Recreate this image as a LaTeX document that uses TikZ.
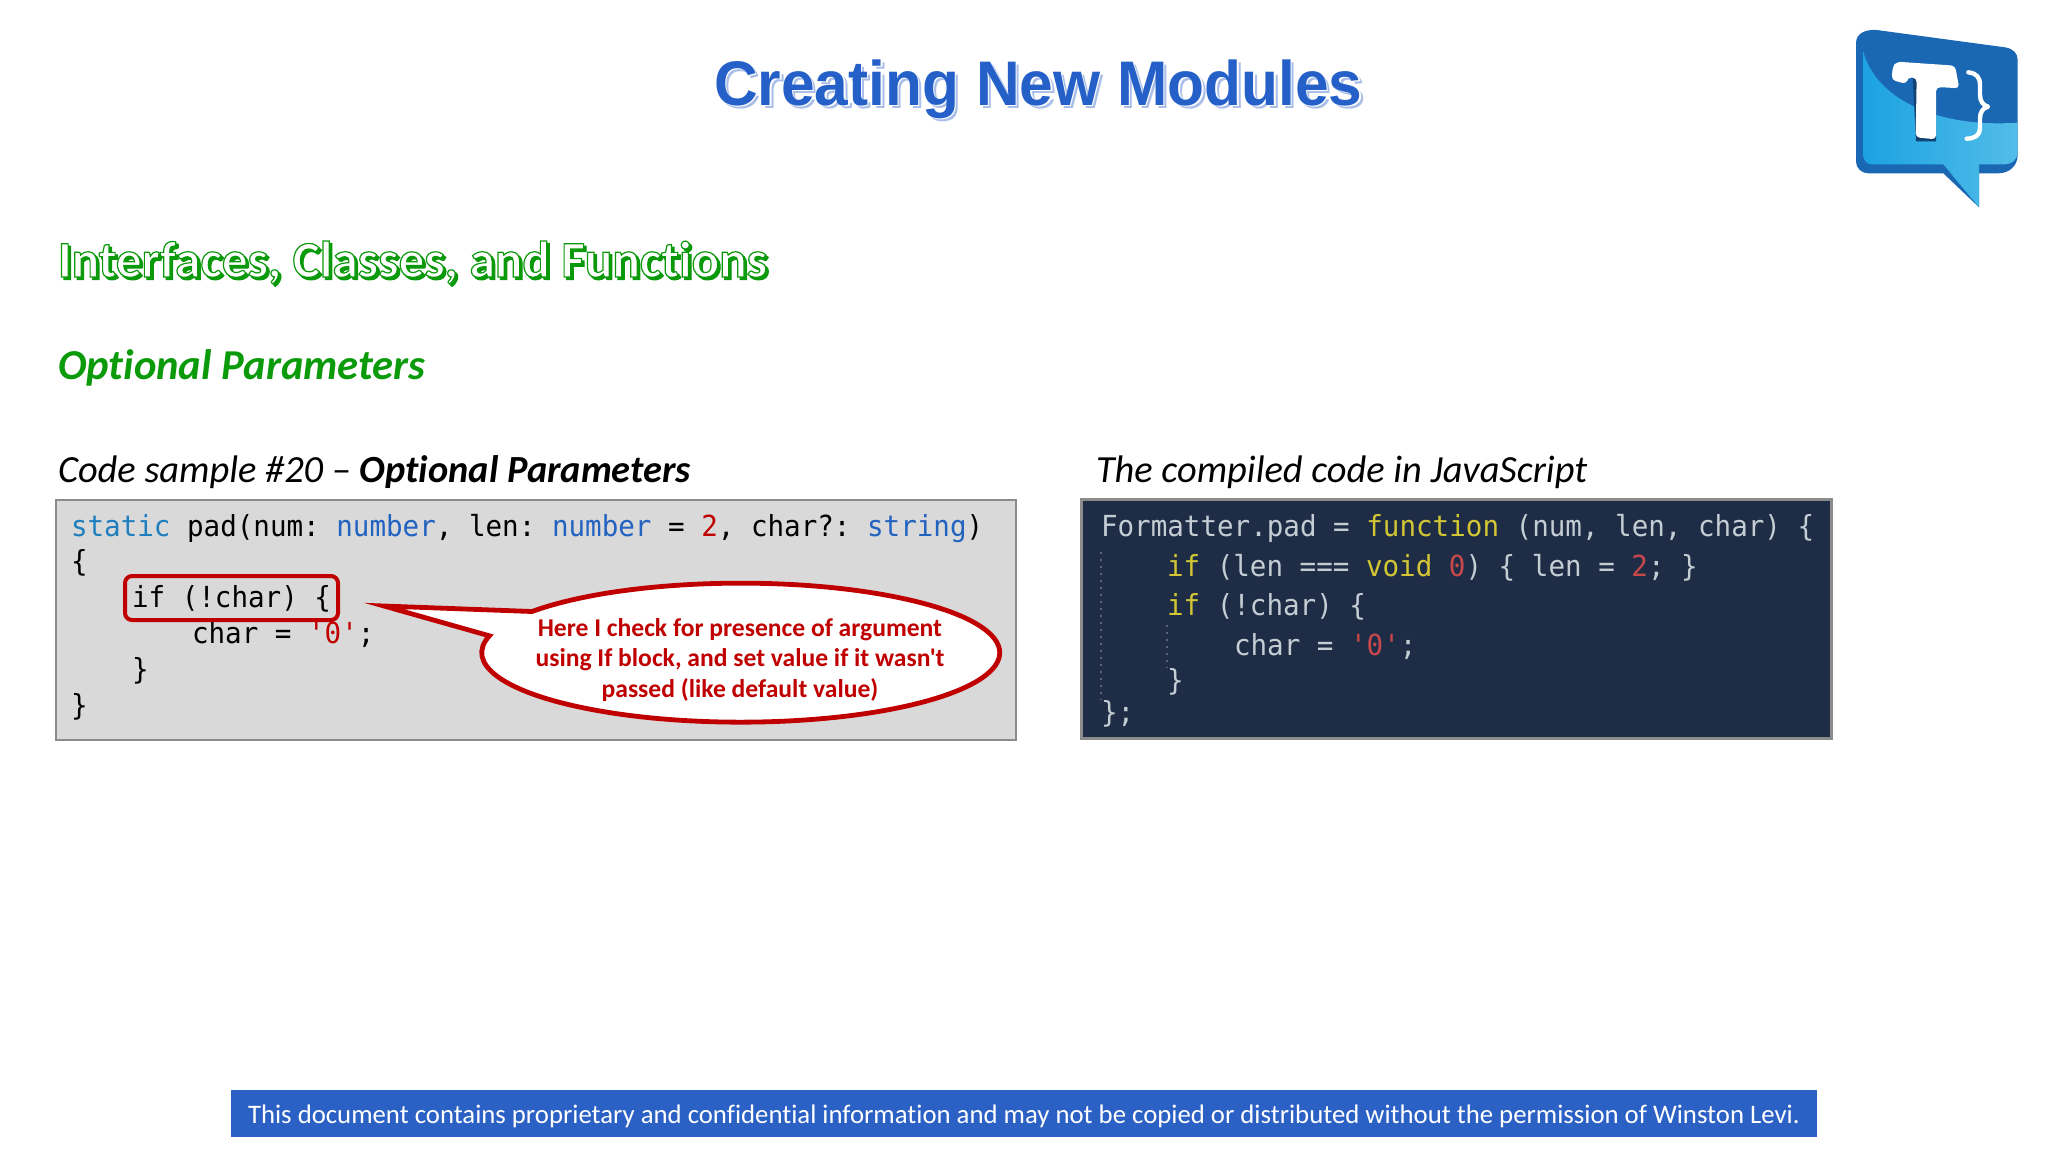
\documentclass[tikz,border=0pt]{standalone}
\usepackage{fontspec}
\usetikzlibrary{positioning}
\newfontfamily\carl[Ligatures=NoCommon]{Carlito}
\newfontfamily\arialf[FakeStretch=0.96]{Liberation Sans}
\newfontfamily\monof[FakeStretch=0.95]{DejaVu Sans Mono}
\definecolor{titleblue}{HTML}{2460C8}
\definecolor{titleshadow}{HTML}{A9BEE8}
\definecolor{headgreen}{HTML}{0A9A0A}
\definecolor{redline}{HTML}{C00000}
\definecolor{kwteal}{HTML}{1F7FBE}
\definecolor{kwblue}{HTML}{2262C0}
\definecolor{jsbg}{HTML}{1E2D45}
\definecolor{jstext}{HTML}{C4CCD4}
\definecolor{jsyellow}{HTML}{D2C634}
\definecolor{jsred}{HTML}{C9484C}
\definecolor{barblue}{HTML}{2B60C4}
\definecolor{logodark}{HTML}{1A68B4}
\definecolor{logomid}{HTML}{1CA2E2}
\definecolor{logolight}{HTML}{52BDE8}
\newcommand\greenstroke[1]{\special{pdf:code 2 Tr 0.6 w 0.04 0.6 0.04 RG}#1\special{pdf:code 0 Tr}}
\tikzset{
  txt/.style={anchor=base west,inner sep=0pt,outer sep=0pt},
  codetxt/.style={txt,text=black,font=\monof\fontsize{14.5}{16}\selectfont\frenchspacing},
  jstxt/.style={txt,text=jstext,font=\monof\fontsize{14.5}{16}\selectfont\frenchspacing},
  captiontxt/.style={txt,font=\carl\itshape\fontsize{19.2}{22}\selectfont},
  titletxt/.style={txt,font=\arialf\bfseries\fontsize{31.5}{36}\selectfont},
  headtxt/.style={txt,font=\carl\bfseries\fontsize{25.6}{28}\selectfont},
  lightbox/.style={draw=black!45,fill=black!15,line width=1pt,minimum width=480pt,minimum height=120pt,inner sep=0pt},
  darkbox/.style={draw=black!45,fill=jsbg,line width=1.5pt,minimum width=375pt,minimum height=119.5pt,inner sep=0pt},
  callout/.style={draw=redline,fill=white,line width=2.4pt,line join=miter},
  mark box/.style={draw=redline,line width=2pt,rounded corners=3.5pt,minimum width=106.5pt,minimum height=22pt,inner sep=0pt},
  indent/.style={draw=black!15!jsbg!70!white,line width=1pt,dash pattern=on 1pt off 2.5pt},
}
\begin{document}
\begin{tikzpicture}[x=0.5pt,y=-0.5pt]
\useasboundingbox (0,0) rectangle (2048,1152);
\fill[white] (0,0) rectangle (2048,1152);

% title
\node[titletxt,text=titleshadow] (titleS) at (717.5,108.5) {Creating New Modules};
\node[titletxt,text=white] (titleW) at (715.5,106.5) {Creating New Modules};
\node[titletxt,text=titleblue] (title) at (714,105) {Creating New Modules};

% heading with outline
\node[headtxt,text=headgreen] (headS) at (60.5,279.5) {\greenstroke{Interfaces, Classes, and Functions}};
\node[headtxt,text=white] (head) at (58,277) {\greenstroke{Interfaces, Classes, and Functions}};

\node[txt,text=headgreen,font=\carl\bfseries\itshape\fontsize{21.3}{24}\selectfont] (sub) at (58,379.5) {Optional Parameters};
\node[captiontxt] (capL) at (58,482.5) {Code sample \#20 – \textbf{Optional Parameters}};
\node[captiontxt] (capR) at (1096,482.5) {The compiled code in JavaScript};

% left code box
\node[lightbox] (codebox) at (536,619.5) {};
\node[codetxt] (c1) at (71,536) {{\color{kwteal}static} pad(num: {\color{kwblue}number}, len: {\color{kwblue}number} = {\color{redline}2}, char?: {\color{kwblue}string})};
\node[codetxt] (c2) at (71,571) {\{};
\node[codetxt] (c3) at (132,607) {if (!char) \{};
\node[codetxt] (c4) at (192,643) {char = {\color{redline}'0'};};
\node[codetxt] (c5) at (132,679) {\}};
\node[codetxt] (c6) at (71,715) {\}};
\node[mark box] (mark) at (231.5,598) {};

% callout
\draw[callout] (384,606) -- (532,611.5)
  arc[start angle=-143.7,end angle=194,x radius=259,y radius=69.5] -- cycle;
\node[align=center,inner sep=0pt,text=redline,font=\carl\bfseries\fontsize{12.8}{15.2}\selectfont] (calltxt) at (740,660)
  {Here I check for presence of argument\\using If block, and set value if it wasn't\\passed (like default value)};

% right code box
\node[darkbox] (jsbox) at (1456,619) {};
\draw[indent] (1101,552) -- (1101,700);
\draw[indent] (1167,625) -- (1167,668);
\node[jstxt] (j1) at (1101,536) {Formatter.pad = {\color{jsyellow}function} (num, len, char) \{};
\node[jstxt] (j2) at (1167,576) {{\color{jsyellow}if} (len === {\color{jsyellow}void} {\color{jsred}0}) \{ len = {\color{jsred}2}; \}};
\node[jstxt] (j3) at (1167,615) {{\color{jsyellow}if} (!char) \{};
\node[jstxt] (j4) at (1234,655) {char = {\color{jsred}'0'};};
\node[jstxt] (j5) at (1167,690) {\}};
\node[jstxt] (j6) at (1101,722) {\};};

% footer
\node[fill=barblue,text=white,minimum width=793pt,minimum height=23.5pt,inner sep=0pt,text height=9.8pt,text depth=0pt,font=\carl\fontsize{13.38}{16}\selectfont] (footer) at (1024,1113.5)
  {This document contains proprietary and confidential information and may not be copied or distributed without the permission of Winston Levi.};

% logo
\begin{scope}[shift={(1800,0)},scale=0.3333]
  \fill[logodark] (168,130) .. controls (168,100) and (195,88) .. (230,90) -- (615,142)
    .. controls (640,146) and (653,160) .. (653,180) -- (653,465)
    .. controls (653,500) and (625,520) .. (595,520) -- (537,520) -- (537,622) -- (430,520) -- (205,520)
    .. controls (185,520) and (168,505) .. (168,485) -- cycle;
  \shade[left color=logomid,right color=logolight] (190,155)
    .. controls (225,290) and (400,385) .. (653,368) -- (653,460)
    .. controls (650,480) and (635,493) .. (615,493) -- (537,493) -- (537,622) -- (430,493) -- (215,493)
    .. controls (200,493) and (190,480) .. (190,465) -- cycle;
  \fill[black!35!logodark] (338,232) -- (348,424) -- (408,424) -- (408,262) -- cycle;
  \fill[white,rounded corners=2pt] (275,240) -- (278,200) -- (290,185) -- (465,197) -- (478,265) -- (432,262) -- (408,262)
    -- (408,418) -- (347,412) -- (350,234) -- (322,232) -- (320,252) -- cycle;
  \draw[white,line width=2.2pt,line cap=round,line join=round] (505,217)
    .. controls (530,220) and (540,232) .. (540,255) -- (540,285)
    .. controls (540,305) and (550,316) .. (564,320)
    .. controls (550,324) and (540,335) .. (540,355) -- (540,385)
    .. controls (540,405) and (525,416) .. (500,416);
\end{scope}
\end{tikzpicture}
\end{document}
